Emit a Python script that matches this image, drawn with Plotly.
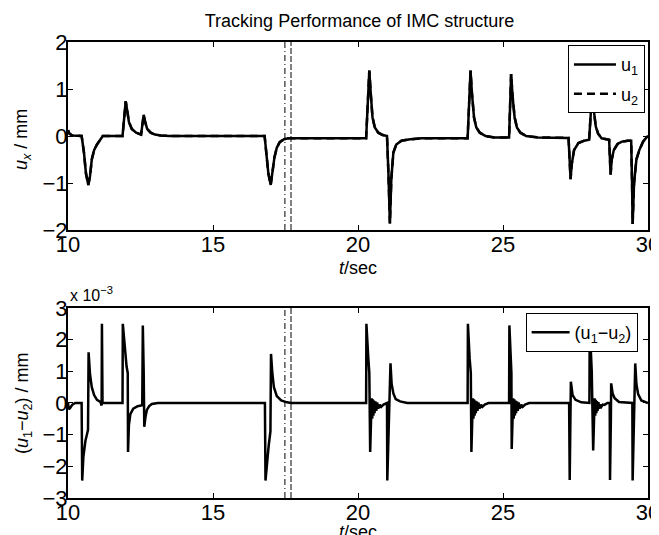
import plotly.graph_objects as go

# ---------------- data ----------------
# top subplot: u1 (solid) and u2 (dashed, visually identical) in mm
t_top = [10.0, 10.05, 10.15, 10.3, 10.47, 10.55, 10.62, 10.70, 10.76, 10.82, 10.9, 11.0, 11.1, 11.17, 11.2,
         11.88, 11.94, 11.99, 12.04, 12.1, 12.2, 12.35, 12.52, 12.56, 12.61, 12.66, 12.73, 12.85, 13.0, 13.2, 13.5,
         16.78, 16.83, 16.91, 16.99, 17.05, 17.12, 17.2, 17.3, 17.45, 17.6,
         20.28, 20.33, 20.39, 20.44, 20.5, 20.58, 20.7, 20.85, 21.0, 21.05, 21.10, 21.15, 21.22, 21.32, 21.5, 21.8, 22.2,
         23.78, 23.83, 23.88, 23.93, 24.0, 24.08, 24.2, 24.4, 24.7,
         25.21, 25.24, 25.28, 25.33, 25.4, 25.48, 25.6, 25.8, 26.2,
         27.26, 27.3, 27.33, 27.37, 27.45, 27.6, 27.8, 27.97,
         28.02, 28.08, 28.14, 28.2, 28.28, 28.4, 28.66,
         28.69, 28.71, 28.75, 28.82, 28.95, 29.1, 29.3, 29.42,
         29.45, 29.47, 29.52, 29.6, 29.7, 29.83, 29.92, 30.0]
u1_top = [0.12, 0.05, 0.01, 0.0, 0.0, -0.35, -0.8, -1.04, -0.85, -0.5, -0.3, -0.18, -0.1, -0.05, 0.0,
          0.0, 0.45, 0.74, 0.55, 0.3, 0.15, 0.07, 0.03, 0.2, 0.45, 0.3, 0.15, 0.07, 0.03, 0.01, 0.0,
          0.0, -0.3, -0.8, -1.04, -0.8, -0.45, -0.25, -0.13, -0.07, -0.05,
          -0.05, 0.6, 1.39, 0.9, 0.4, 0.18, 0.07, 0.02, 0.0, -0.8, -1.86, -0.9, -0.35, -0.18, -0.1, -0.07, -0.05,
          -0.05, 0.6, 1.39, 0.9, 0.4, 0.18, 0.07, 0.0, -0.03,
          -0.03, 0.6, 1.32, 0.85, 0.4, 0.18, 0.07, 0.0, -0.03,
          -0.04, -0.5, -0.92, -0.6, -0.3, -0.15, -0.1, -0.08,
          0.5, 1.0, 0.5, 0.2, 0.05, -0.05, -0.08,
          -0.4, -0.82, -0.5, -0.3, -0.17, -0.12, -0.1, -0.1,
          -1.0, -1.87, -1.0, -0.5, -0.3, -0.12, -0.05, 0.0]
u2_top = list(u1_top)  # indistinguishable from u1 at this scale

# bottom subplot: (u1 - u2) in units of 1e-3 mm
t_bot = [10.0, 10.03, 10.08, 10.15, 10.25, 10.47, 10.49, 10.53, 10.6, 10.69, 10.71, 10.76, 10.82, 10.9, 11.0,
         11.12, 11.16, 11.17, 11.19, 11.88, 11.89, 11.95, 12.02, 12.06, 12.07, 12.1, 12.15, 12.25, 12.4, 12.56,
         12.58, 12.61, 12.63, 12.67, 12.72, 12.8, 12.89, 13.1,
         16.79, 16.81, 16.86, 16.92, 16.98, 17.0, 17.05, 17.1, 17.2, 17.35, 17.55, 17.7,
         20.28, 20.29, 20.35, 20.39, 20.42, 20.45, 20.47, 20.49, 20.51, 20.53, 20.55, 20.57, 20.6, 20.63, 20.66,
         20.7, 20.75, 20.8, 20.88, 21.0, 21.01, 21.12, 21.16, 21.22, 21.3, 21.45, 21.7,
         23.78, 23.79, 23.85, 23.89, 23.91, 23.94, 23.96, 23.98, 24.0, 24.02, 24.04, 24.06, 24.09, 24.12, 24.15,
         24.19, 24.24, 24.29, 24.37, 24.5,
         25.21, 25.22, 25.26, 25.29, 25.30, 25.33, 25.35, 25.37, 25.39, 25.41, 25.43, 25.45, 25.48, 25.51, 25.54,
         25.58, 25.63, 25.68, 25.76, 25.9,
         27.28, 27.3, 27.33, 27.34, 27.4, 27.5, 27.7,
         27.98, 27.99, 28.06, 28.11, 28.14, 28.16, 28.18, 28.2, 28.22, 28.24, 28.26, 28.29, 28.32, 28.35, 28.39,
         28.44, 28.5, 28.6,
         28.68, 28.69, 28.72, 28.73, 28.78, 28.85, 29.0, 29.3,
         29.46, 29.47, 29.56, 29.6, 29.66, 29.77, 29.9, 30.0]
d_bot = [0.0, -0.2, -0.15, -0.05, 0.0, 0.0, -2.45, -1.7, -1.2, -0.85, 1.6, 0.9, 0.5, 0.25, 0.1,
         0.03, -0.08, 2.5, 0.0, 0.0, 2.5, 1.8, 1.15, 0.95, -1.55, -0.7, -0.35, -0.18, -0.1, -0.07,
         2.45, 1.0, -0.75, -0.45, -0.22, -0.1, -0.03, 0.0,
         0.0, -2.45, -1.8, -1.35, -0.9, 1.55, 0.9, 0.5, 0.22, 0.08, 0.02, 0.0,
         0.0, 2.5, 1.5, 0.95, -1.55, -0.6, 0.15, -0.5, 0.12, -0.4, 0.08, -0.32, 0.05, -0.25, 0.02,
         -0.18, -0.05, -0.12, -0.05, 0.0, -2.45, 1.25, 0.6, 0.3, 0.12, 0.05, 0.0,
         0.0, 2.5, 1.4, 0.95, -1.55, -0.6, 0.15, -0.5, 0.12, -0.4, 0.08, -0.32, 0.05, -0.25, 0.02,
         -0.18, -0.05, -0.12, -0.05, 0.0,
         0.0, 2.45, 1.3, 0.95, -1.45, -0.6, 0.15, -0.5, 0.12, -0.4, 0.08, -0.32, 0.05, -0.25, 0.02,
         -0.18, -0.05, -0.12, -0.05, 0.0,
         0.0, -2.43, -0.6, 0.67, 0.25, 0.1, 0.02,
         0.0, 2.45, 1.0, -1.5, -0.5, 0.15, -0.4, 0.1, -0.32, 0.06, -0.25, 0.03, -0.18, -0.05, -0.12,
         -0.05, -0.06, 0.0,
         0.0, -2.43, -0.5, 0.62, 0.3, 0.15, 0.03, 0.0,
         0.0, -2.45, 1.25, 0.6, 0.28, 0.08, 0.02, 0.0]

marker_times = [17.48, 17.69]          # the two vertical reference lines
marker_dash = ["6px,3px,1px,3px", "6px,2px"]

x_ticks = [10, 15, 20, 25, 30]
top_y_ticks = [-2, -1, 0, 1, 2]
bot_y_ticks = [-3, -2, -1, 0, 1, 2, 3]

# ---------------- figure ----------------
FONT = "Liberation Sans, Arial, Helvetica, sans-serif"
fig = go.Figure()

fig.add_trace(go.Scatter(x=t_top, y=u2_top, mode="lines", name="u<sub>2</sub>",
                         line=dict(color="black", width=2.5, dash="8px,5px"),
                         xaxis="x", yaxis="y", legend="legend", legendrank=2, legendgroup="b"))
fig.add_trace(go.Scatter(x=t_top, y=u1_top, mode="lines", name="u<sub>1</sub>",
                         line=dict(color="black", width=2.5),
                         xaxis="x", yaxis="y", legend="legend", legendrank=1, legendgroup="a"))
fig.add_trace(go.Scatter(x=t_bot, y=d_bot, mode="lines", name="(u<sub>1</sub>\u2212u<sub>2</sub>)",
                         line=dict(color="black", width=2.5),
                         xaxis="x2", yaxis="y2", legend="legend2"))

for tm, ds in zip(marker_times, marker_dash):
    for xr, yr in (("x", "y domain"), ("x2", "y2 domain")):
        fig.add_shape(type="line", xref=xr, yref=yr, x0=tm, x1=tm, y0=0, y1=1,
                      line=dict(color="black", width=1, dash=ds), layer="above")

axis_common = dict(showline=True, linecolor="black", linewidth=2, mirror="allticks",
                   ticks="inside", ticklen=5, tickwidth=1, tickcolor="black",
                   showgrid=False, zeroline=False, automargin=False,
                   tickfont=dict(family=FONT, size=22, color="black"))

fig.update_layout(
    template="none",
    width=659, height=535,
    margin=dict(l=60, r=19, t=34, b=45),
    paper_bgcolor="white", plot_bgcolor="white",
    font=dict(family=FONT, color="black"),
    showlegend=True,
    title=dict(text="Tracking Performance of IMC structure", x=0.5334, xanchor="center",
               y=0.977, yanchor="middle", font=dict(size=18, family=FONT, color="black")),
    xaxis=dict(domain=[0, 1], anchor="y", range=[10, 30], tickvals=x_ticks, ticklabelstandoff=-6,
               **axis_common),
    yaxis=dict(domain=[0.5877, 1], anchor="x", range=[-2, 2], tickvals=top_y_ticks, ticklabelstandoff=-6,
               **axis_common),
    xaxis2=dict(domain=[0, 1], anchor="y2", range=[10, 30], tickvals=x_ticks, ticklabelstandoff=-6,
                **axis_common),
    yaxis2=dict(domain=[0, 0.4167], anchor="x2", range=[-3, 3], tickvals=bot_y_ticks, ticklabelstandoff=-6,
                **axis_common),
    legend=dict(x=0.862, y=0.993, xanchor="left", yanchor="top", bgcolor="white",
                bordercolor="black", borderwidth=1, font=dict(size=18, family=FONT, color="black"),
                traceorder="grouped", tracegroupgap=3, itemwidth=42),
    legend2=dict(x=0.789, y=0.4057, xanchor="left", yanchor="top", bgcolor="white",
                 bordercolor="black", borderwidth=1, font=dict(size=18, family=FONT, color="black"),
                 itemwidth=38),
)

TITLE_FONT = dict(size=18, family=FONT, color="black")
# axis titles
fig.add_annotation(text="<i>t</i>/sec", xref="x domain", yref="y domain", x=0.5, y=0,
                   yshift=-38, xanchor="center", yanchor="middle", showarrow=False, font=TITLE_FONT)
fig.add_annotation(text="<i>t</i>/sec", xref="x2 domain", yref="y2 domain", x=0.5, y=0,
                   yshift=-34, xanchor="center", yanchor="middle", showarrow=False, font=TITLE_FONT)
fig.add_annotation(text="<i>u</i><sub><i>x</i></sub> / mm", xref="x domain", yref="y domain",
                   x=0, y=0.5, xshift=-46, yshift=-4, textangle=-90, xanchor="center", yanchor="middle",
                   showarrow=False, font=TITLE_FONT)
fig.add_annotation(text="(<i>u</i><sub>1</sub>\u2212<i>u</i><sub>2</sub>) / mm", xref="x2 domain",
                   yref="y2 domain", x=0, y=0.5, xshift=-44, textangle=-90, xanchor="center",
                   yanchor="middle", showarrow=False, font=TITLE_FONT)

fig.add_annotation(text="x 10<sup>\u22123</sup>", xref="paper", yref="paper", x=0.0, y=0.421,
                   xanchor="left", yanchor="bottom", showarrow=False,
                   font=dict(size=16, family=FONT, color="black"))

fig.write_html("out.html")
